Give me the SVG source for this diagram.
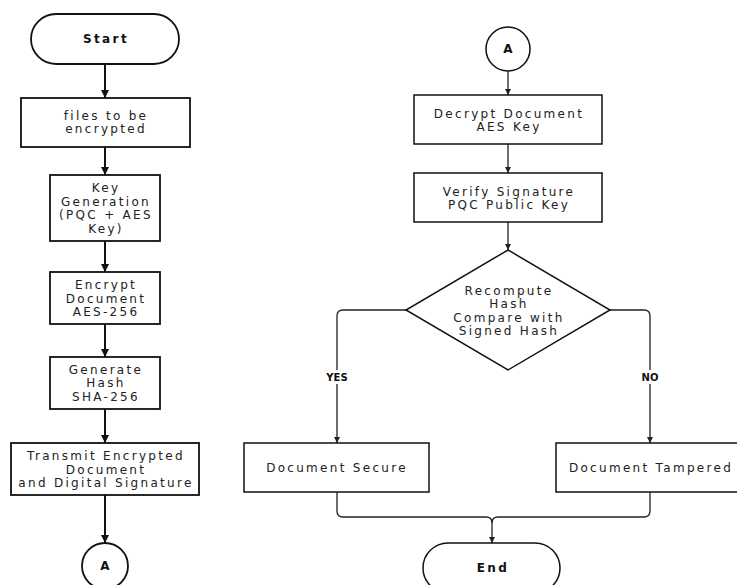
<svg xmlns="http://www.w3.org/2000/svg" width="737" height="585" viewBox="0 0 737 585">
<defs>
<style>
.shape{fill:#fff;stroke:#111;stroke-width:1.8}
.shapeR{fill:#fff;stroke:#111;stroke-width:1.5}
.t{font-family:"DejaVu Sans",sans-serif;font-size:12px;letter-spacing:2.3px;fill:#222;text-anchor:middle}
.b{font-family:"DejaVu Sans",sans-serif;font-size:12px;font-weight:bold;letter-spacing:2.4px;fill:#111;text-anchor:middle}
.lb{font-family:"DejaVu Sans",sans-serif;font-size:10px;font-weight:bold;fill:#111;text-anchor:middle}
.c1{fill:none;stroke:#111;stroke-width:2}
.c2{fill:none;stroke:#222;stroke-width:1.3}
</style>
<marker id="ah" viewBox="0 0 10 10" refX="10" refY="5" markerWidth="4" markerHeight="4" orient="auto" markerUnits="strokeWidth">
<path d="M0,0 L10,5 L0,10 z" fill="#111"/>
</marker>
<marker id="ah2" viewBox="0 0 10 10" refX="10" refY="5" markerWidth="5" markerHeight="5" orient="auto" markerUnits="strokeWidth">
<path d="M0,0 L10,5 L0,10 z" fill="#222"/>
</marker>
</defs>
<rect width="737" height="585" fill="#fff"/>
<g id="connectors">
<path class="c1" d="M105,64 V98" marker-end="url(#ah)"/>
<path class="c1" d="M105,147 V175" marker-end="url(#ah)"/>
<path class="c1" d="M105,241 V272" marker-end="url(#ah)"/>
<path class="c1" d="M105,324 V357" marker-end="url(#ah)"/>
<path class="c1" d="M105,409 V443" marker-end="url(#ah)"/>
<path class="c1" d="M105,495 V543" marker-end="url(#ah)"/>
<path class="c2" d="M508,71 V95" marker-end="url(#ah2)"/>
<path class="c2" d="M508,144 V173" marker-end="url(#ah2)"/>
<path class="c2" d="M508,222 V250" marker-end="url(#ah2)"/>
<path class="c2" d="M406,310 H343 Q337,310 337,316 V443" marker-end="url(#ah2)"/>
<path class="c2" d="M610,310 H644 Q650,310 650,316 V443" marker-end="url(#ah2)"/>
<path class="c2" d="M337,492 V511 Q337,517 343,517 H486 Q492,517 492,523"/>
<path class="c2" d="M650,492 V511 Q650,517 644,517 H498 Q492,517 492,523 V543" marker-end="url(#ah2)"/>
</g>
<g id="yes-label"><rect x="325" y="370" width="24" height="14" fill="#fff"/><text class="lb" x="337" y="381">YES</text></g>
<g id="no-label"><rect x="640" y="370" width="20" height="14" fill="#fff"/><text class="lb" x="650" y="381">NO</text></g>
<g id="start"><rect class="shape" x="31" y="14" width="148" height="50" rx="25"/><text class="b" x="106" y="43">Start</text></g>
<g id="files"><rect class="shape" x="21" y="98" width="169" height="49"/><text class="t" x="106" y="119.5">files to be</text><text class="t" x="106" y="133">encrypted</text></g>
<g id="keygen"><rect class="shape" x="50" y="175" width="110" height="66"/><text class="t" x="106" y="192">Key</text><text class="t" x="106" y="205.5">Generation</text><text class="t" x="106" y="219">(PQC + AES</text><text class="t" x="106" y="232.5">Key)</text></g>
<g id="encrypt"><rect class="shape" x="50" y="272" width="110" height="52"/><text class="t" x="106" y="289">Encrypt</text><text class="t" x="106" y="302.5">Document</text><text class="t" x="106" y="316">AES-256</text></g>
<g id="hash"><rect class="shape" x="50" y="357" width="110" height="52"/><text class="t" x="106" y="373.5">Generate</text><text class="t" x="106" y="387">Hash</text><text class="t" x="106" y="400.5">SHA-256</text></g>
<g id="transmit"><rect class="shape" x="11" y="443" width="188" height="52"/><text class="t" x="106" y="460">Transmit Encrypted</text><text class="t" x="106" y="473.5">Document</text><text class="t" x="106" y="487">and Digital Signature</text></g>
<g id="connA1"><circle class="shape" cx="105" cy="566" r="23"/><text class="b" x="106" y="570">A</text></g>
<g id="connA2"><circle class="shapeR" cx="508" cy="49" r="22"/><text class="b" x="509" y="53">A</text></g>
<g id="decrypt"><rect class="shapeR" x="414" y="95" width="188" height="49"/><text class="t" x="509" y="117.5">Decrypt Document</text><text class="t" x="509" y="131">AES Key</text></g>
<g id="verify"><rect class="shapeR" x="414" y="173" width="188" height="49"/><text class="t" x="509" y="195.5">Verify Signature</text><text class="t" x="509" y="209">PQC Public Key</text></g>
<g id="decision"><path class="shapeR" d="M508,250 L610,310 L508,370 L406,310 Z"/><text class="t" x="509" y="294.5">Recompute</text><text class="t" x="509" y="308">Hash</text><text class="t" x="509" y="321.5">Compare with</text><text class="t" x="509" y="335">Signed Hash</text></g>
<g id="secure"><rect class="shapeR" x="244" y="443" width="185" height="49"/><text class="t" x="337" y="471.5">Document Secure</text></g>
<g id="tampered"><rect class="shapeR" x="556" y="443" width="190" height="49"/><text class="t" x="651" y="471.5">Document Tampered</text></g>
<g id="end"><rect class="shapeR" x="423" y="543" width="137" height="50" rx="25"/><text class="b" x="493" y="572">End</text></g>
</svg>
